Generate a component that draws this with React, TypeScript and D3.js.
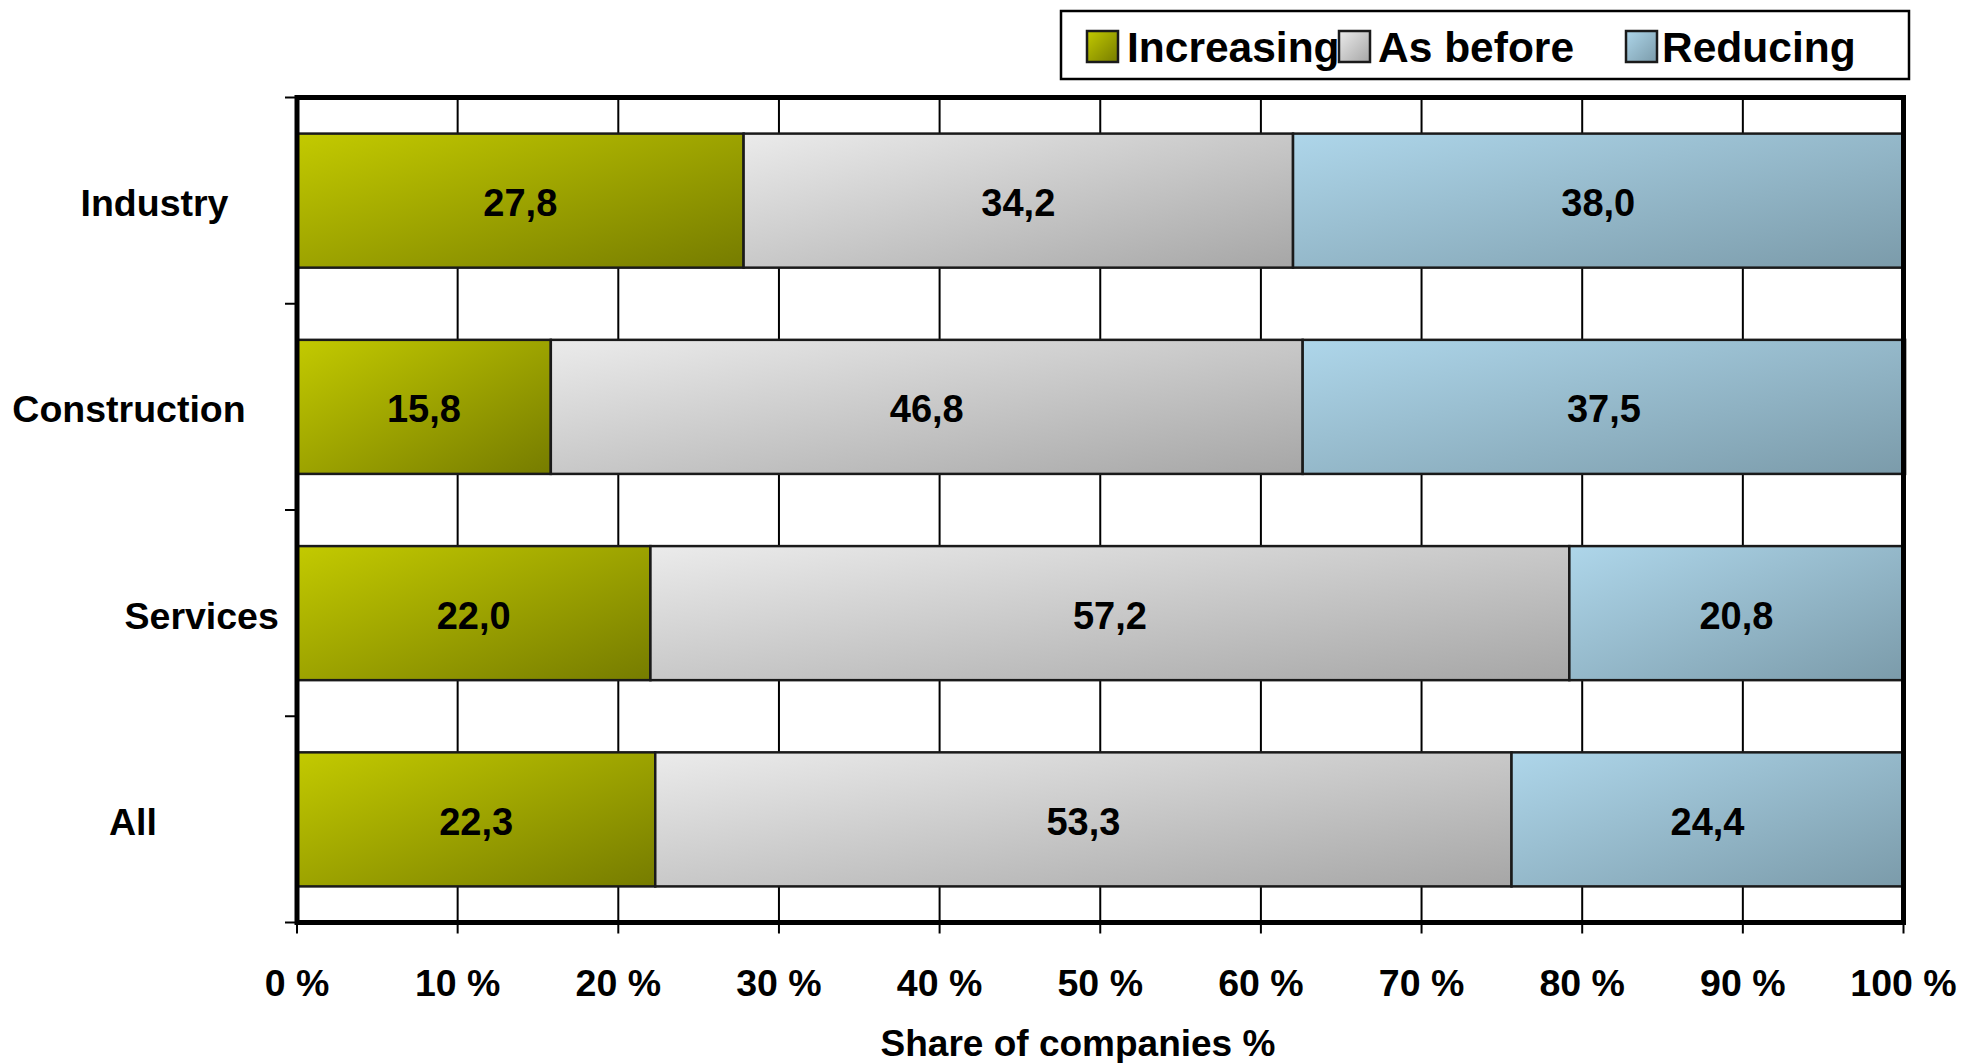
import React from "react";
import * as d3 from "d3";

const categories = ["Industry", "Construction", "Services", "All"];
const seriesNames = ["Increasing", "As before", "Reducing"];
const increasing = [27.8, 15.8, 22.0, 22.3];
const asBefore = [34.2, 46.8, 57.2, 53.3];
const reducing = [38.0, 37.5, 20.8, 24.4];
const xTicks = [0, 10, 20, 30, 40, 50, 60, 70, 80, 90, 100];
const axisTitle = "Share of companies %";

// layout
const W = 1962;
const H = 1063;
const plotL = 297;
const plotR = 1903.5;
const plotT = 97.5;
const plotB = 922.5;
const catLabelX = [154.5, 129, 201.7, 133];
const legendBox = { x: 1061, y: 11, w: 848, h: 68 };
const legendSquareX = [1087, 1339, 1626];
const legendTextX = [1127, 1378, 1662];

const gradients = [
  { id: "gInc", from: "#c3ca00", to: "#767c00" },
  { id: "gAs", from: "#ebebeb", to: "#a6a6a6" },
  { id: "gRed", from: "#aed6ea", to: "#7b9baa" },
];

const fmt = (v: number) => v.toFixed(1).replace(".", ",");

export default function App() {
  const x = d3.scaleLinear().domain([0, 100]).range([plotL, plotR]);
  const y = d3
    .scaleBand<string>()
    .domain(categories)
    .range([plotT, plotB])
    .paddingInner(0.35)
    .paddingOuter(0.175);

  const table = categories.map((c, i) => ({
    cat: c,
    Increasing: increasing[i],
    "As before": asBefore[i],
    Reducing: reducing[i],
  }));
  const stacked = d3.stack<any>().keys(seriesNames)(table);
  const step = y.step();
  const boundaries = d3.range(categories.length + 1).map((i) => plotT + i * step);
  const font = "'Liberation Sans', Arial, sans-serif";

  return (
    <div style={{ position: "fixed", left: 0, top: 0, background: "#fff" }}>
      <svg width={W} height={H} style={{ display: "block" }} fontFamily={font}>
        <defs>
          {gradients.map((g) => (
            <linearGradient key={g.id} id={g.id} x1="0" y1="0" x2="1" y2="1">
              <stop offset="0%" stopColor={g.from} />
              <stop offset="100%" stopColor={g.to} />
            </linearGradient>
          ))}
        </defs>
        <rect x={0} y={0} width={W} height={H} fill="#fff" />

        {/* gridlines */}
        {xTicks.slice(1, -1).map((t) => (
          <line key={t} x1={x(t)} x2={x(t)} y1={plotT} y2={plotB} stroke="#000" strokeWidth={2} />
        ))}

        {/* bars */}
        {stacked.map((s, si) => (
          <g key={s.key}>
            {s.map((d, i) => {
              const x0 = x(d[0]);
              const x1 = x(d[1]);
              const yy = y(categories[i])!;
              return (
                <g key={i}>
                  <rect
                    x={x0}
                    y={yy}
                    width={x1 - x0}
                    height={y.bandwidth()}
                    fill={`url(#${gradients[si].id})`}
                    stroke="#1a1a1a"
                    strokeWidth={2.5}
                  />
                  <text
                    x={(x0 + x1) / 2}
                    y={yy + y.bandwidth() / 2 + 15.5}
                    textAnchor="middle"
                    fontSize={38}
                    fontWeight="bold"
                    fill="#000"
                  >
                    {fmt(d[1] - d[0])}
                  </text>
                </g>
              );
            })}
          </g>
        ))}

        {/* frame */}
        <rect
          x={plotL}
          y={plotT}
          width={plotR - plotL}
          height={plotB - plotT}
          fill="none"
          stroke="#000"
          strokeWidth={5}
        />

        {/* y category ticks */}
        {boundaries.map((b, i) => (
          <line key={i} x1={plotL - 12} x2={plotL} y1={b} y2={b} stroke="#000" strokeWidth={2} />
        ))}
        {/* x ticks */}
        {xTicks.map((t) => (
          <line key={t} x1={x(t)} x2={x(t)} y1={plotB} y2={plotB + 11} stroke="#000" strokeWidth={2} />
        ))}

        {/* category labels */}
        {categories.map((c, i) => (
          <text
            key={c}
            x={catLabelX[i]}
            y={y(c)! + y.bandwidth() / 2 + 15.5}
            textAnchor="middle"
            fontSize={37.5}
            fontWeight="bold"
          >
            {c}
          </text>
        ))}

        {/* x tick labels */}
        {xTicks.map((t) => (
          <text key={t} x={x(t)} y={996} textAnchor="middle" fontSize={37.5} fontWeight="bold">
            {`${t} %`}
          </text>
        ))}

        <text x={1078} y={1056} textAnchor="middle" fontSize={37} fontWeight="bold">
          {axisTitle}
        </text>

        {/* legend */}
        <rect
          x={legendBox.x}
          y={legendBox.y}
          width={legendBox.w}
          height={legendBox.h}
          fill="#fff"
          stroke="#000"
          strokeWidth={2.5}
        />
        {seriesNames.map((n, i) => (
          <g key={n}>
            <rect
              x={legendSquareX[i]}
              y={31}
              width={31}
              height={31}
              fill={`url(#${gradients[i].id})`}
              stroke="#1a1a1a"
              strokeWidth={2.5}
            />
            <text x={legendTextX[i]} y={62} fontSize={42.5} fontWeight="bold">
              {n}
            </text>
          </g>
        ))}
      </svg>
    </div>
  );
}
